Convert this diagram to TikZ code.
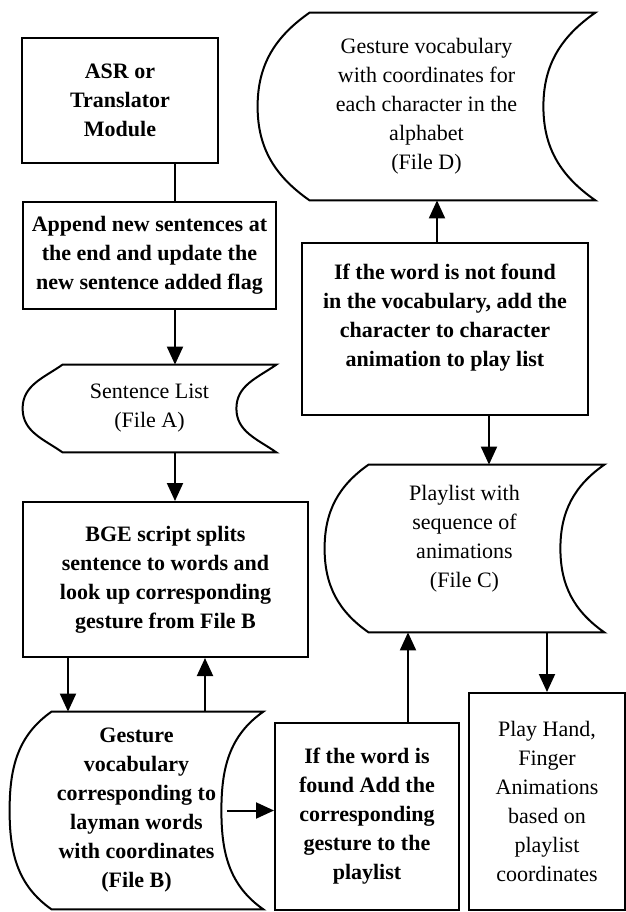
\documentclass[tikz,border=0pt]{standalone}
\usepackage{fontspec}
\setmainfont{Liberation Serif}
\usetikzlibrary{positioning,calc,arrows.meta}

% stored data outline round a (not drawn) node: #1 = node, #2 = bulge
\newcommand{\storedshape}[2]{%
  \draw[line width=1pt] ([xshift=#2]#1.north west) -- (#1.north east)
     to[out=215,in=90] ([xshift=-#2]#1.east)
     to[out=-90,in=145] (#1.south east)
     -- ([xshift=#2]#1.south west)
     to[out=145,in=-90] (#1.west)
     to[out=90,in=215] ([xshift=#2]#1.north west) -- cycle;}

\tikzset{
  stepbox/.style={draw, line width=1pt, align=center, inner sep=2pt,
                  font=\fontsize{11}{14.5}\selectfont\bfseries},
  plainbox/.style={stepbox, font=\fontsize{11}{14.5}\selectfont},
  datafile/.style={align=center, inner sep=0pt,
                   font=\fontsize{11}{14.5}\selectfont},
  flow/.style={line width=1pt, -{Triangle[length=9pt,width=8pt]}},
  link/.style={line width=1pt}
}

\begin{document}
\begin{tikzpicture}[x=0.5pt,y=-0.5pt]
  \useasboundingbox (0,0) rectangle (626,912);

  % left column
  \node[stepbox, minimum width=98pt, minimum height=62.5pt] (asr) at (120,100.5)
       {ASR or\\Translator\\Module};
  \node[stepbox, minimum width=126.5pt, minimum height=53.5pt] (append) at (149.5,255.5)
       {Append new sentences at\\the end and update the\\new sentence added flag};
  \node[datafile, minimum width=126.5pt, minimum height=43.5pt] (fileA) at (149.5,408.5)
       {Sentence List\\(File A)};
  \node[stepbox, minimum width=142.5pt, minimum height=77.5pt] (bge) at (165.5,579.5)
       {BGE script splits\\sentence to words and\\look up corresponding\\gesture from File B};
  \node[datafile, font=\fontsize{11}{14.5}\selectfont\bfseries,
        minimum width=126.5pt, minimum height=98.5pt] (fileB) at (136.5,810.5)
       {Gesture\\vocabulary\\corresponding to\\layman words\\with coordinates\\(File B)};

  % right side
  \node[datafile, minimum width=168.5pt, minimum height=93.5pt] (fileD) at (426.5,106.5)
       {Gesture vocabulary\\with coordinates for\\each character in the\\alphabet\\(File D)};
  \node[stepbox, text depth=14pt, minimum width=143pt, minimum height=86pt] (notfound) at (445,329)
       {If the word is not found\\in the vocabulary, add the\\character to character\\animation to play list};
  \node[datafile, text depth=12pt, minimum width=139.5pt, minimum height=83.5pt] (fileC) at (464.5,548.5)
       {Playlist with\\sequence of\\animations\\(File C)};
  \node[stepbox, minimum width=92pt, minimum height=93.5pt] (found) at (367,816.5)
       {If the word is\\found Add the\\corresponding\\gesture to the\\playlist};
  \node[plainbox, minimum width=78pt, minimum height=108.5pt] (play) at (547,801.5)
       {Play Hand,\\Finger\\Animations\\based on\\playlist\\coordinates};

  \storedshape{fileA}{20pt}
  \storedshape{fileB}{21pt}
  \storedshape{fileC}{22pt}
  \storedshape{fileD}{26pt}

  % connectors
  \coordinate (trunk) at (175,0);
  \draw[link] (asr.south -| trunk) -- (append.north -| trunk);
  \draw[flow] (append.south -| trunk) -- (fileA.north -| trunk);
  \draw[flow] (fileA.south -| trunk) -- (bge.north -| trunk);
  \coordinate (down) at (68,0);
  \coordinate (up) at (205,0);
  \draw[flow] (bge.south -| down) -- (fileB.north -| down);
  \draw[flow] (fileB.north -| up) -- (bge.south -| up);
  \draw[flow] ([xshift=-18pt]fileB.east) -- (fileB.east -| found.west);
  \coordinate (rise) at (408,0);
  \draw[flow] (found.north -| rise) -- (fileC.south -| rise);
  \draw[flow] (fileC.south -| play.north) -- (play.north);
  \coordinate (toD) at (437,0);
  \coordinate (toC) at (489,0);
  \draw[flow] (notfound.north -| toD) -- (fileD.south -| toD);
  \draw[flow] (notfound.south -| toC) -- (fileC.north -| toC);
\end{tikzpicture}
\end{document}
